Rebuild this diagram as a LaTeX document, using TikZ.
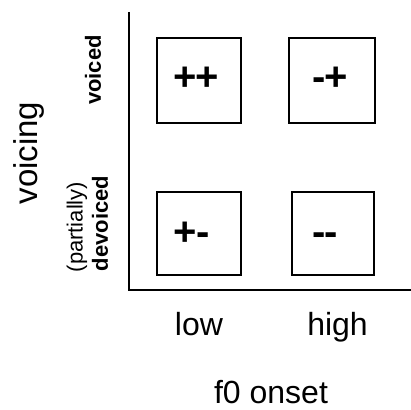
\documentclass[tikz,border=0pt]{standalone}
\usepackage{fontspec}
\setmainfont{Liberation Sans}
\begin{document}
\begin{tikzpicture}[x=1pt,y=-1pt,
  cell/.style={draw,line width=1.6pt,inner sep=0pt},
  sign/.style={font=\fontsize{40}{40}\selectfont\bfseries,inner sep=0pt,anchor=base},
  axis/.style={line width=2pt},
  biglabel/.style={font=\fontsize{32}{32}\selectfont,anchor=base},
  small/.style={font=\fontsize{22}{22}\selectfont,rotate=90}]
\useasboundingbox (0,0) rectangle (411,409);
% axes
\coordinate (top) at (129,12);
\coordinate (origin) at (129,290);
\coordinate (right) at (411,290);
\draw[axis] (top) -- (origin) -- (right);
% cells
\node[cell,minimum width=84pt,minimum height=85pt] (c11) at (199,80.5) {};
\node[cell,minimum width=86pt,minimum height=85pt] (c21) at (332,80.5) {};
\node[cell,minimum width=84pt,minimum height=83pt] (c12) at (199,233.5) {};
\node[cell,minimum width=82pt,minimum height=83pt] (c22) at (333,233.5) {};
% cell contents, set on a common baseline per row
\node[sign] (s11) at (196,91) {+\kern-2pt+};
\node[sign] (s21) at (330,91) {-\kern-1pt+};
\node[sign] (s12) at (191.5,245) {+\kern-1pt-};
\node[sign] (s22) at (325,245) {-\kern-1pt-};
% x labels
\node[biglabel] (low) at (199,335) {low};
\node[biglabel] (high) at (337.5,335) {high};
\node[biglabel] (xlab) at (271,403) {f0 onset};
% y labels
\node[font=\fontsize{33}{33}\selectfont,rotate=90] (ylab) at (29,153) {voicing};
\node[small] (voiced) at (93,70) {\bfseries voiced};
\node[small] (partial) at (77,227) {(partially)};
\node[small] (devoiced) at (100,223.5) {\bfseries devoiced};
\end{tikzpicture}
\end{document}
